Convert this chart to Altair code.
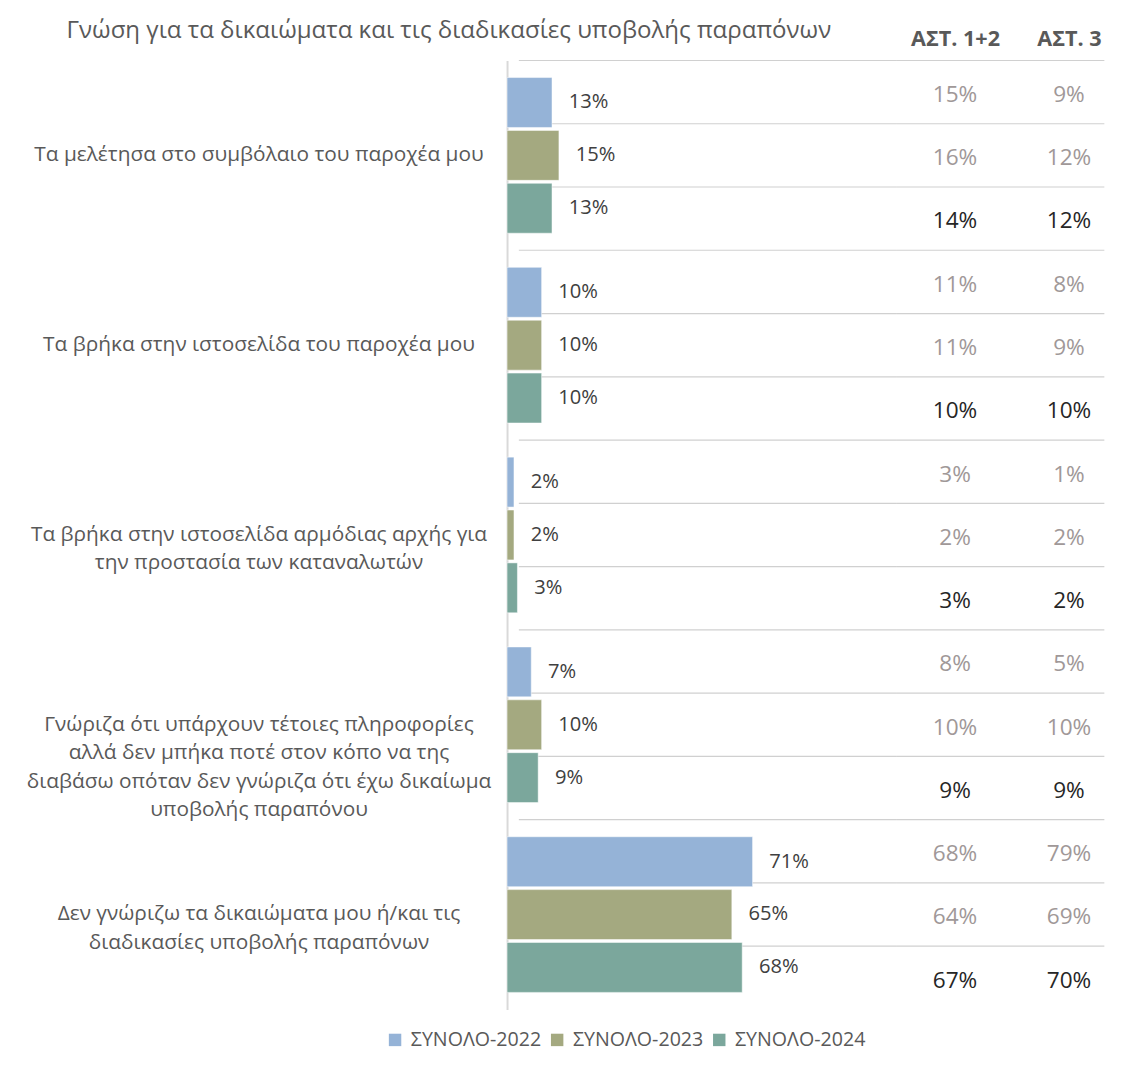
import altair as alt
import pandas as pd

categories = [
    "Τα μελέτησα στο συμβόλαιο του παροχέα μου",
    "Τα βρήκα στην ιστοσελίδα του παροχέα μου",
    "Τα βρήκα στην ιστοσελίδα αρμόδιας αρχής για\nτην προστασία των καταναλωτών",
    "Γνώριζα ότι υπάρχουν τέτοιες πληροφορίες\nαλλά δεν μπήκα ποτέ στον κόπο να της\nδιαβάσω οπόταν δεν γνώριζα ότι έχω δικαίωμα\nυποβολής παραπόνου",
    "Δεν γνώριζω τα δικαιώματα μου ή/και τις\nδιαδικασίες υποβολής παραπόνων",
]
series = ["ΣΥΝΟΛΟ-2022", "ΣΥΝΟΛΟ-2023", "ΣΥΝΟΛΟ-2024"]
colors = ["#95B3D7", "#A4A980", "#7BA79C"]

total_2022 = [13, 10, 2, 7, 71]
total_2023 = [15, 10, 2, 10, 65]
total_2024 = [13, 10, 3, 9, 68]

ast12_2022 = [15, 11, 3, 8, 68]
ast12_2023 = [16, 11, 2, 10, 64]
ast12_2024 = [14, 10, 3, 9, 67]

ast3_2022 = [9, 8, 1, 5, 79]
ast3_2023 = [12, 9, 2, 10, 69]
ast3_2024 = [12, 10, 2, 9, 70]

columns = ["ΑΣΤ. 1+2", "ΑΣΤ. 3"]

title_text = "Γνώση για τα δικαιώματα και τις διαδικασίες υποβολής παραπόνων"

totals = [total_2022, total_2023, total_2024]
ast12 = [ast12_2022, ast12_2023, ast12_2024]
ast3 = [ast3_2022, ast3_2023, ast3_2024]

bar_rows = []
table_rows = []
for ci, cat in enumerate(categories):
    for si, s in enumerate(series):
        bar_rows.append({"category": cat, "series": s, "value": totals[si][ci]})
        rk = f"r{ci}-{si}"
        table_rows.append({"row": rk, "series": s, "col": columns[0], "value": ast12[si][ci]})
        table_rows.append({"row": rk, "series": s, "col": columns[1], "value": ast3[si][ci]})

bars_df = pd.DataFrame(bar_rows)
table_df = pd.DataFrame(table_rows)
n_rows = len(categories) * len(series)
lines_df = pd.DataFrame({"b": list(range(n_rows))})

FONT = "Open Sans"
H = 966
LW = 396
RW = 212

rules_left = alt.Chart(lines_df).mark_rule(color="#D0D0D0", strokeWidth=1.2).encode(
    y=alt.Y("b:Q", scale=alt.Scale(domain=[0, n_rows], reverse=True, nice=False, zero=False), axis=None),
    x=alt.value(12),
    x2=alt.value(LW),
)

bars = alt.Chart(bars_df).mark_bar(stroke="white", strokeWidth=0.5).encode(
    y=alt.Y(
        "category:N",
        sort=categories,
        scale=alt.Scale(paddingInner=0.18, paddingOuter=0.09),
        axis=alt.Axis(
            title=None,
            labelExpr="split(datum.label, '\\n')",
            labelAlign="center",
            labelBaseline="middle",
            labelPadding=253,
            ticks=False,
            tickSize=0,
            domainColor="#D9D9D9",
            domainWidth=2,
            labelFont=FONT,
            labelFontSize=21.2,
            labelColor="#595959",
            labelLimit=700,
            labelLineHeight=29,
        ),
    ),
    yOffset=alt.YOffset("series:N", sort=series, scale=alt.Scale(paddingInner=0.056, paddingOuter=0)),
    x=alt.X("value:Q", scale=alt.Scale(domain=[0, 112.5], nice=False), axis=None),
    color=alt.Color(
        "series:N",
        sort=series,
        scale=alt.Scale(domain=series, range=colors),
        legend=alt.Legend(
            title=None,
            orient="none",
            direction="horizontal",
            legendX=-124,
            legendY=987,
            symbolType="square",
            symbolSize=160,
            symbolStrokeWidth=0,
            labelFont=FONT,
            labelFontSize=20,
            labelColor="#595959",
            columnPadding=6,
            labelOffset=6,
        ),
    ),
)

labels = alt.Chart(bars_df).transform_calculate(
    label="datum.value + '%'"
).mark_text(align="left", baseline="middle", dx=17, font=FONT, fontSize=20.5, color="#404040").encode(
    y=alt.Y("category:N", sort=categories),
    yOffset=alt.YOffset("series:N", sort=series),
    x=alt.X("value:Q"),
    text="label:N",
)

left = alt.layer(rules_left, alt.layer(bars, labels)).resolve_scale(y="independent").properties(
    width=LW,
    height=H,
    title=alt.TitleParams(
        title_text,
        anchor="start",
        frame="bounds",
        font=FONT,
        fontSize=24.5,
        fontWeight="normal",
        color="#595959",
        offset=17,
        dx=41,
    ),
)

rules_right = alt.Chart(lines_df).mark_rule(color="#D0D0D0", strokeWidth=1.2).encode(
    y=alt.Y("b:Q", scale=alt.Scale(domain=[0, n_rows], reverse=True, nice=False, zero=False), axis=None),
)

table = alt.Chart(table_df).transform_calculate(
    label="datum.value + '%'"
).mark_text(baseline="middle", dy=3, font=FONT, fontSize=23).encode(
    y=alt.Y("row:N", sort=None, axis=None),
    x=alt.X(
        "col:N",
        sort=columns,
        scale=alt.Scale(range=[2, 234]),
        axis=alt.Axis(
            orient="top",
            title=None,
            labelAngle=0,
            ticks=False,
            tickSize=0,
            domain=False,
            labelFont=FONT,
            labelFontWeight="bold",
            labelFontSize=22,
            labelColor="#595959",
            labelPadding=10,
        ),
    ),
    text="label:N",
    color=alt.condition("datum.series == 'ΣΥΝΟΛΟ-2024'", alt.value("#262626"), alt.value("#A09898")),
)

right = alt.layer(rules_right, table).resolve_scale(y="independent").properties(width=RW, height=H)

chart = alt.hconcat(
    left, right, spacing=0, bounds="flush", padding={"left": 18, "top": 0, "right": 0, "bottom": 0}
).configure(background="white").configure_view(strokeWidth=0, stroke="transparent")

chart.save("out.html", embed_options={"renderer": "svg", "actions": False})
